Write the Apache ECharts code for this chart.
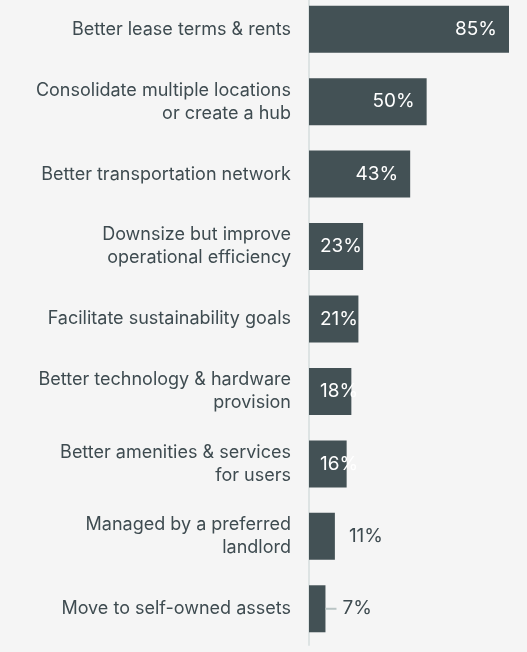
<!DOCTYPE html>
<html>
<head>
<meta charset="utf-8">
<script src="https://cdn.jsdelivr.net/npm/echarts@6/dist/echarts.min.js"></script>
<style>
  html, body { margin: 0; padding: 0; background: #f5f5f5; overflow: hidden; }
  /* the first band starts a little above the page edge */
  #chart { position: relative; top: -7px; width: 527px; height: 660px; }
</style>
</head>
<body>
<div id="chart"></div>
<script>
var categories = [
  'Better lease terms & rents',
  'Consolidate multiple locations\nor create a hub',
  'Better transportation network',
  'Downsize but improve\noperational efficiency',
  'Facilitate sustainability goals',
  'Better technology & hardware\nprovision',
  'Better amenities & services\nfor users',
  'Managed by a preferred\nlandlord',
  'Move to self-owned assets'
];
var values = [85, 50, 43, 23, 21, 18, 16, 11, 7];

var barColor = '#435155';
var textColor = '#3e4b50';
var font = 'Inter';

// pick where each value label sits, depending on bar length
function labelFor(v) {
  if (v >= 40) {
    return { position: 'insideRight', distance: 12, color: '#ffffff' };
  }
  if (v >= 15) {
    return { position: 'insideLeft', distance: 11, color: '#ffffff' };
  }
  if (v >= 10) {
    return { position: 'right', distance: 14, color: textColor };
  }
  return {
    position: 'right',
    distance: 0,
    color: textColor,
    formatter: '{line|}{txt|{c}%}',
    rich: {
      line: { width: 11, height: 2, backgroundColor: '#b9c4c4' },
      txt: { padding: [0, 0, 0, 6], fontSize: 19, color: textColor, fontFamily: font }
    }
  };
}

var seriesData = values.map(function (v) {
  return { value: v, label: labelFor(v) };
});

var myChart = echarts.init(document.getElementById('chart'));
var option = {
  backgroundColor: '#f5f5f5',
  animation: false,
  grid: { left: 309, right: 18, top: 0, bottom: 8, containLabel: false },
  xAxis: {
    type: 'value',
    min: 0,
    max: 85,
    show: false
  },
  yAxis: {
    type: 'category',
    data: categories,
    inverse: true,
    offset: 1,
    axisLine: { show: true, lineStyle: { color: '#dde3e3', width: 2 } },
    axisTick: { show: false },
    axisLabel: {
      margin: 17,
      fontSize: 18,
      lineHeight: 23,
      color: textColor,
      fontFamily: font,
      align: 'right'
    }
  },
  series: [{
    type: 'bar',
    data: seriesData,
    barWidth: 47,
    itemStyle: { color: barColor },
    label: {
      show: true,
      formatter: '{c}%',
      fontSize: 19,
      fontFamily: font
    }
  }]
};
myChart.setOption(option);
</script>
</body>
</html>
